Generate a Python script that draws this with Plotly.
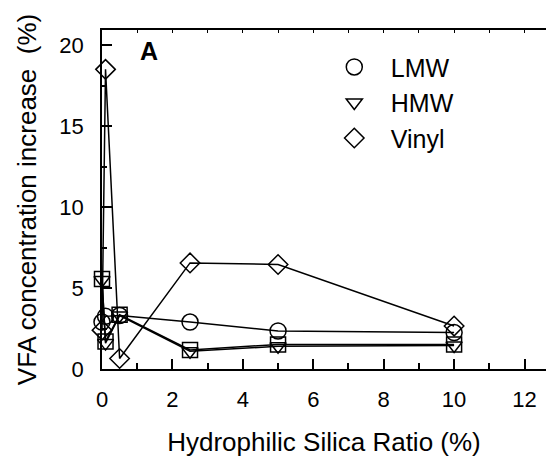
import plotly.graph_objects as go

# Hydrophilic silica ratio (%) and VFA concentration increase (%) per polymer
ratio = [0, 0.1, 0.5, 2.5, 5, 10]
lmw = [2.9, 3.25, 3.3, 2.9, 2.35, 2.25]
hmw = [5.5, 1.6, 3.3, 1.1, 1.4, 1.45]
hmw_sq = [5.55, 1.7, 3.35, 1.18, 1.52, 1.52]
vinyl = [2.4, 18.5, 0.65, 6.55, 6.45, 2.65]

FONT = "Liberation Sans, Arial, sans-serif"
LINE_W = 1.5
HOLLOW = "rgba(0,0,0,0)"

fig = go.Figure()

def marker(symbol, size):
    return dict(symbol=symbol, size=size, color=HOLLOW,
                line=dict(color="black", width=LINE_W))

def add_series(y, symbol, size, name):
    fig.add_trace(go.Scatter(
        x=ratio, y=y, mode="lines+markers", name=name, showlegend=False,
        line=dict(color="black", width=LINE_W),
        marker=marker(symbol, size), cliponaxis=False,
    ))

add_series(hmw_sq, "square", 15, "HMW (square)")
add_series(hmw, "triangle-down", 14, "HMW")
add_series(lmw, "circle", 16, "LMW")
add_series(vinyl, "diamond", 15, "Vinyl")

# Legend entries show markers only
for name, symbol, size in [("LMW", "circle", 16),
                           ("HMW", "triangle-down", 14),
                           ("Vinyl", "diamond", 15)]:
    fig.add_trace(go.Scatter(
        x=[None], y=[None], mode="markers", name=name,
        marker=marker(symbol, size),
    ))

# invisible trace that carries the top tick axis
fig.add_trace(go.Scatter(x=[None], y=[None], xaxis="x2", showlegend=False,
                         hoverinfo="skip"))

XMAX = 12.61
fig.update_layout(
    width=546, height=463,
    margin=dict(l=102, r=0, t=30, b=94),
    paper_bgcolor="white", plot_bgcolor="white",
    font=dict(family=FONT, color="black", size=22),
    xaxis=dict(
        range=[0, XMAX], dtick=2, tick0=0,
        showgrid=False, zeroline=False,
        showline=True, linecolor="black", linewidth=LINE_W, mirror=True,
        ticks="inside", ticklen=10, tickwidth=LINE_W, tickcolor="black",
        minor=dict(dtick=1, ticks="inside", ticklen=6, tickwidth=LINE_W,
                   tickcolor="black"),
        tickfont=dict(size=22), ticklabelstandoff=10,
        title=dict(text="Hydrophilic Silica Ratio (%)", font=dict(size=26),
                   standoff=22),
    ),
    xaxis2=dict(
        overlaying="x", side="top", anchor="y", range=[0, XMAX], dtick=1,
        showgrid=False, zeroline=False, showline=False,
        ticks="inside", ticklen=3, tickwidth=1, tickcolor="black",
        showticklabels=False,
    ),
    yaxis=dict(
        range=[0, 20.93], dtick=5, tick0=0,
        showgrid=False, zeroline=False,
        showline=True, linecolor="black", linewidth=LINE_W,
        ticks="inside", ticklen=10, tickwidth=LINE_W, tickcolor="black",
        minor=dict(dtick=2.5, ticks="inside", ticklen=5, tickwidth=LINE_W,
                   tickcolor="black"),
        tickfont=dict(size=22), ticklabelstandoff=12,
        title=dict(text="VFA concentration increase  (%)", font=dict(size=26),
                   standoff=15),
    ),
    legend=dict(
        x=0.486, y=0.958, xanchor="left", yanchor="top",
        bgcolor="rgba(0,0,0,0)", font=dict(size=25),
        itemwidth=63, tracegroupgap=0,
    ),
    annotations=[dict(
        text="<b>A</b>", xref="paper", yref="paper", x=0.106, y=0.938,
        xanchor="center", yanchor="middle", showarrow=False,
        font=dict(size=25, family=FONT),
    )],
)

fig.write_html("out.html")
